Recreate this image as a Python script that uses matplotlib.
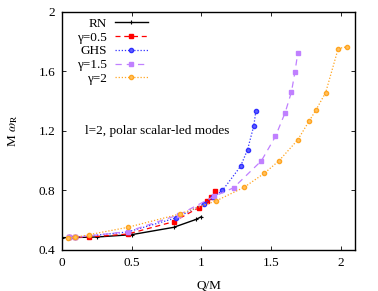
import matplotlib.pyplot as plt

# data
rn_q = [0.0, 0.05, 0.1, 0.25, 0.5, 0.8, 0.96, 1.0]
rn_w = [0.483, 0.483, 0.484, 0.487, 0.503, 0.552, 0.605, 0.624]

g05_q = [0.05, 0.095, 0.196, 0.47, 0.80, 0.98, 1.04, 1.067, 1.095]
g05_w = [0.484, 0.485, 0.487, 0.507, 0.59, 0.684, 0.729, 0.754, 0.796]

ghs_q = [0.05, 0.095, 0.47, 0.816, 1.02, 1.08, 1.15, 1.28, 1.33, 1.375, 1.39]
ghs_w = [0.484, 0.485, 0.521, 0.615, 0.71, 0.754, 0.80, 0.962, 1.074, 1.235, 1.335]

g15_q = [0.05, 0.095, 0.47, 0.84, 1.09, 1.23, 1.43, 1.53, 1.60, 1.645, 1.67, 1.69]
g15_w = [0.484, 0.485, 0.523, 0.637, 0.76, 0.818, 1.0, 1.163, 1.324, 1.463, 1.597, 1.723]

g2_q = [0.045, 0.095, 0.196, 0.47, 0.845, 1.107, 1.305, 1.45, 1.556, 1.69, 1.77, 1.82, 1.89, 1.98, 2.04]
g2_w = [0.483, 0.485, 0.503, 0.552, 0.642, 0.731, 0.821, 0.915, 1.0, 1.14, 1.264, 1.34, 1.458, 1.754, 1.765]

x_ticks = [0, 0.5, 1, 1.5, 2]
y_ticks = [0.4, 0.8, 1.2, 1.6, 2]

plt.rcParams['font.family'] = ['Liberation Serif', 'DejaVu Serif']
plt.rcParams['font.size'] = 9.5
plt.rcParams['mathtext.fontset'] = 'stix'

fig = plt.figure(figsize=(3.78, 2.91), dpi=100)
ax = fig.add_axes([0.164, 0.141, 0.775, 0.818])

ax.plot(rn_q, rn_w, color='black', lw=1.0, ls='-', marker='+', ms=3, mew=0.8, label='RN')
ax.plot(g05_q, g05_w, color='red', lw=0.9, ls=(0, (4, 3)), marker='s', ms=2.4, label='γ=0.5')
ax.plot(ghs_q, ghs_w, color='#3030ff', lw=0.9, ls=(0, (1, 1.5)), marker='o', ms=3.0,
        mfc='#6060ff', label='GHS')
ax.plot(g15_q, g15_w, color='#c080ff', lw=0.9, ls=(0, (5, 4)), marker='s', ms=2.4, label='γ=1.5')
ax.plot(g2_q, g2_w, color='#ffa520', lw=0.9, ls=(0, (1, 1.5)), marker='o', ms=3.0,
        mfc='#ffc060', label='γ=2')

ax.set_xlim(0, 2.1)
ax.set_ylim(0.4, 2.0)
ax.set_xticks(x_ticks)
ax.set_xticklabels(['0', '0.5', '1', '1.5', '2'])
ax.set_yticks(y_ticks)
ax.set_yticklabels(['0.4', '0.8', '1.2', '1.6', '2'])
ax.tick_params(direction='in', top=True, right=True, length=3, width=0.6, pad=5)
for s in ax.spines.values():
    s.set_linewidth(1.0)

ax.set_xlabel('Q/M', labelpad=8)
ax.set_ylabel(r'M $\omega_{\rm R}$', labelpad=13)

ax.text(0.165, 1.197, 'l=2, polar scalar-led modes', va='center', ha='left')

# gnuplot-style key: labels right-aligned, samples on the right
ax.legend(loc='upper right', bbox_to_anchor=(0.325, 1.015), markerfirst=False, frameon=False,
          handlelength=2.5, handletextpad=0.6, labelspacing=0.12, borderaxespad=0.3)

fig.savefig('out.png', dpi=100)
